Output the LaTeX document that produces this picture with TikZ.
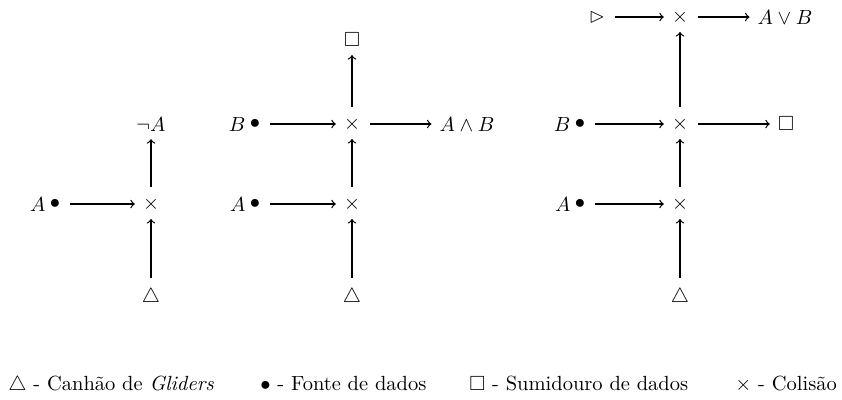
\documentclass[tikz,border=0pt]{standalone}
\usepackage{amssymb}
\begin{document}
\begin{tikzpicture}[x=0.488pt,y=-0.488pt,
  obj/.style={inner sep=1pt, outer sep=0pt},
  arr/.style={->, >=to, line width=0.6pt, shorten >=3pt, shorten <=4pt},
  leg/.style={anchor=base west, inner sep=0pt}]
\useasboundingbox (0,0) rectangle (842,399);
% Diagram 1
\node[obj, label={[inner sep=1pt]left:$A$}] (b1) at (55,204) {$\bullet$};
\node[obj] (x1) at (151,204) {$\times$};
\node[obj] (t1) at (151,297) {$\triangle$};
\node[obj] (n1) at (151,124) {$\neg A$};
\draw[arr] (b1) -- (x1);
\draw[arr] (t1) -- (x1);
\draw[arr] (x1) -- (n1);
% Diagram 2
\node[obj, label={[inner sep=1pt]left:$A$}] (b2a) at (255,204) {$\bullet$};
\node[obj, label={[inner sep=1pt]left:$B$}] (b2b) at (255,124) {$\bullet$};
\node[obj] (x2a) at (352,204) {$\times$};
\node[obj] (x2b) at (352,124) {$\times$};
\node[obj] (t2) at (352,297) {$\triangle$};
\node[obj] (s2) at (352,40) {$\square$};
\node[obj] (o2) at (467,124) {$A\wedge B$};
\draw[arr] (b2a) -- (x2a);
\draw[arr] (b2b) -- (x2b);
\draw[arr] (t2) -- (x2a);
\draw[arr] (x2a) -- (x2b);
\draw[arr] (x2b) -- (s2);
\draw[arr] (x2b) -- (o2);
% Diagram 3
\node[obj] (r3) at (597,17) {$\vartriangleright$};
\node[obj] (x3c) at (680,17) {$\times$};
\node[obj] (o3) at (785,17) {$A\vee B$};
\node[obj, label={[inner sep=1pt]left:$B$}] (b3b) at (580,124) {$\bullet$};
\node[obj] (x3b) at (680,124) {$\times$};
\node[obj] (s3) at (786,124) {$\square$};
\node[obj, label={[inner sep=1pt]left:$A$}] (b3a) at (580,204) {$\bullet$};
\node[obj] (x3a) at (680,204) {$\times$};
\node[obj] (t3) at (680,297) {$\triangle$};
\draw[arr] (t3) -- (x3a);
\draw[arr] (x3a) -- (x3b);
\draw[arr] (x3b) -- (x3c);
\draw[arr] (b3a) -- (x3a);
\draw[arr] (b3b) -- (x3b);
\draw[arr] (x3b) -- (s3);
\draw[arr] (r3) -- (x3c);
\draw[arr] (x3c) -- (o3);
% Legend
\node[leg] (l1) at (8,390) {$\triangle$ - Canhão de \textit{Gliders}};
\node[leg] (l2) at (260,390) {$\bullet$ - Fonte de dados};
\node[leg] (l3) at (469,390) {$\square$ - Sumidouro de dados};
\node[leg] (l4) at (735,390) {$\times$ - Colisão};
\end{tikzpicture}
\end{document}
